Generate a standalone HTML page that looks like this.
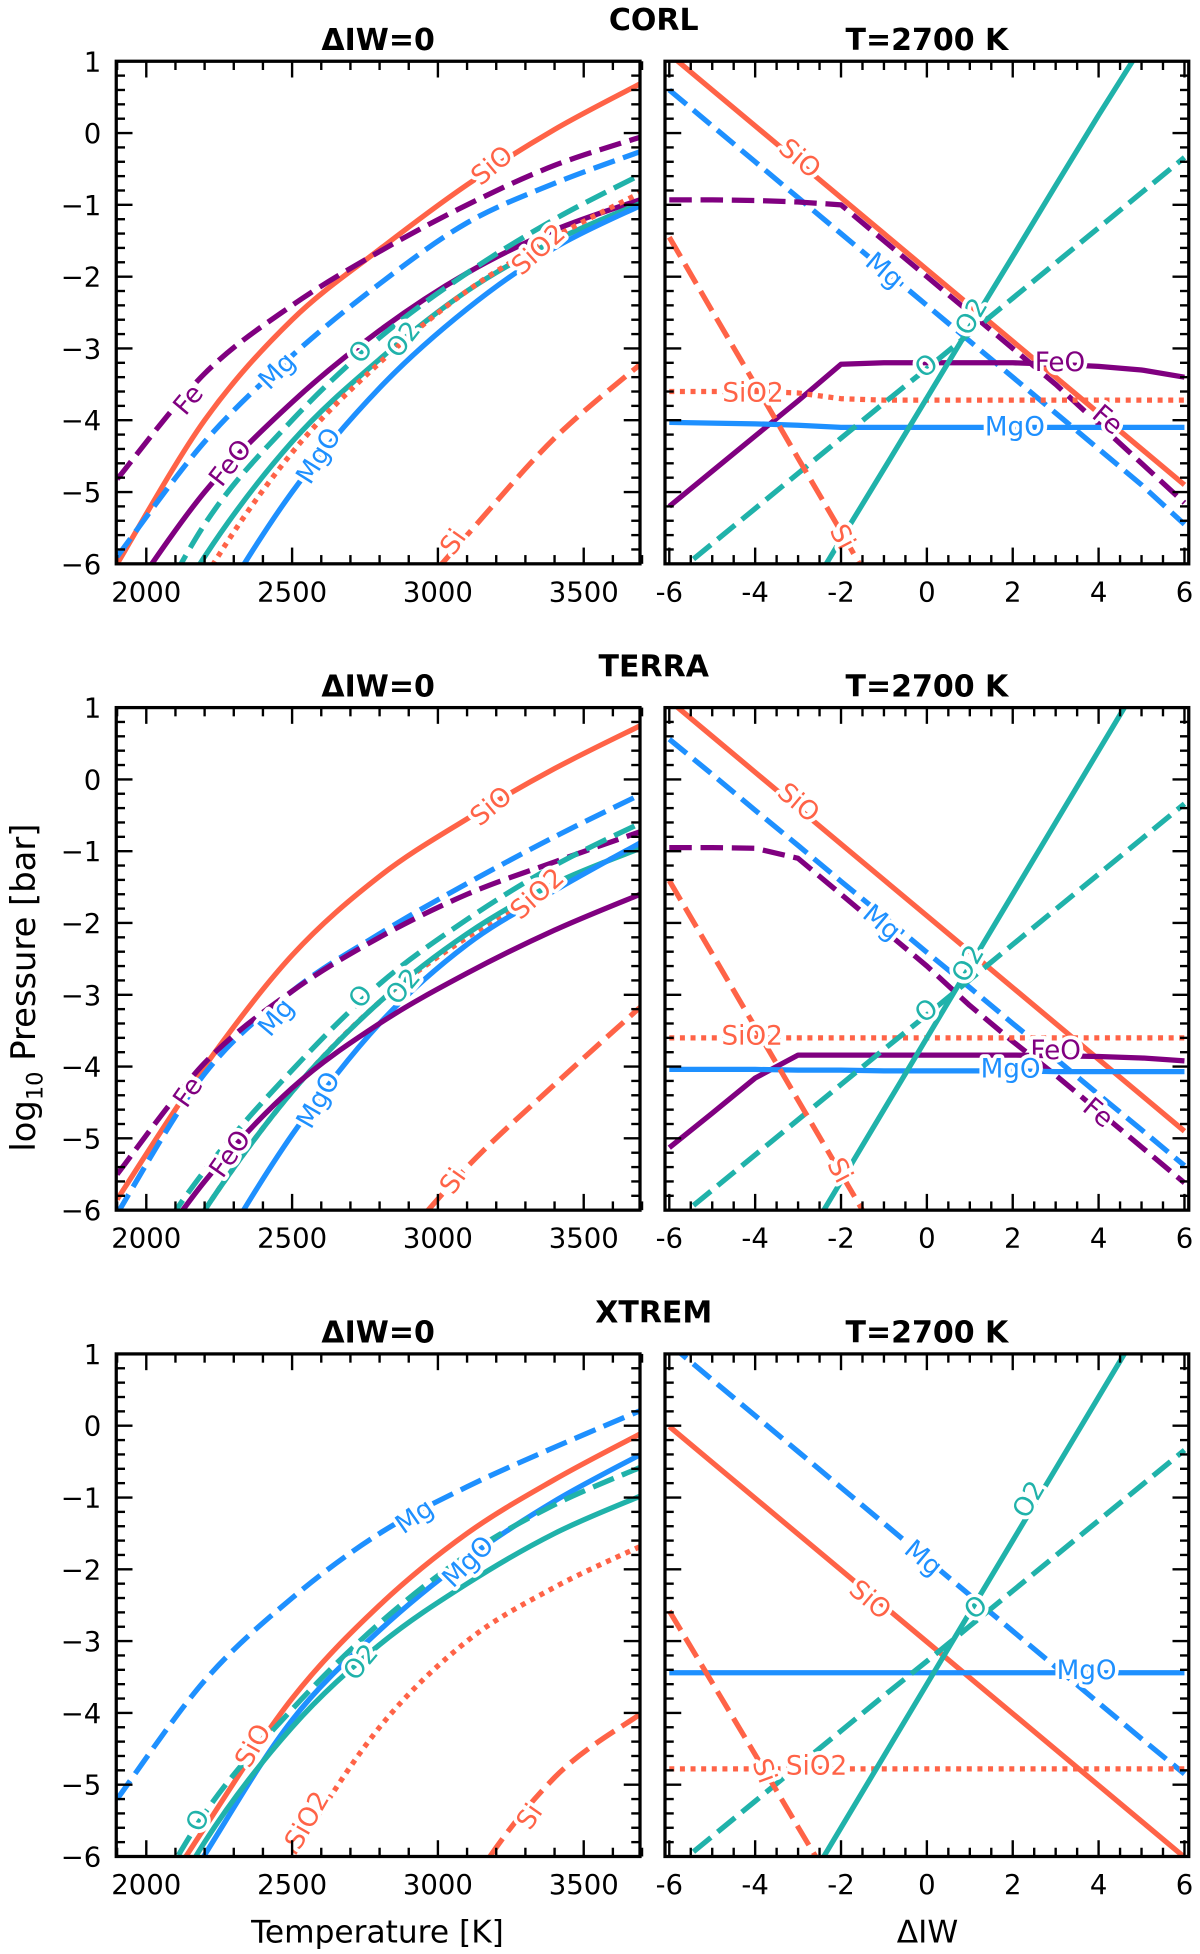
<!DOCTYPE html>
<html><head><meta charset="utf-8"><style>html,body{margin:0;padding:0;background:#fff;overflow:hidden}svg{display:block}</style></head>
<body>
<svg id="fig" width="1200" height="1954" viewBox="0 0 960 1563" preserveAspectRatio="none" xmlns="http://www.w3.org/2000/svg" font-family="'DejaVu Sans','Liberation Sans',sans-serif"></svg>
<script>
// ---------- data ----------
const tempGrid = [1900,2200,2500,2800,3100,3400,3700];
const iwGrid = [-6,-5,-4,-3,-2,-1,0,1,2,3,4,5,6];
const rowNames = ["CORL","TERRA","XTREM"];
const yTicks = [1,0,-1,-2,-3,-4,-5,-6];
const tTicks = [2000,2500,3000,3500];
const iwTicks = [-6,-4,-2,0,2,4,6];

// Left panels (log10 P vs T at ΔIW=0)
const corlT = {
 SiO:[-6.0,-4.0,-2.6,-1.62,-0.72,0.05,0.7],
 Fe:[-4.82,-3.35,-2.4,-1.65,-1.0,-0.45,-0.05],
 Mg:[-5.9,-4.3,-3.1,-2.1,-1.25,-0.7,-0.25],
 FeO:[-6.7,-5.0,-3.75,-2.75,-1.95,-1.35,-0.92],
 O2:[-8.0,-5.9,-4.3,-3.15,-2.2,-1.5,-0.97],
 O:[-7.7,-5.45,-4.0,-2.85,-1.95,-1.2,-0.57],
 SiO2:[-8.5,-6.2,-4.45,-3.2,-2.2,-1.45,-0.82],
 MgO:[-9.0,-6.9,-5.0,-3.55,-2.45,-1.6,-1.0],
 Si:[-12,-10,-8.4,-7.0,-5.6,-4.25,-3.2]
};
const terraT = {
 SiO:[-5.85,-4.0,-2.45,-1.35,-0.55,0.15,0.76],
 Mg:[-6.05,-4.1,-2.95,-2.15,-1.45,-0.8,-0.2],
 Fe:[-5.5,-3.95,-2.95,-2.2,-1.6,-1.15,-0.72],
 O:[-7.2,-5.45,-4.05,-2.85,-1.95,-1.2,-0.6],
 SiO2:[-8.0,-6.0,-4.35,-3.1,-2.2,-1.5,-0.9],
 O2:[-8.0,-6.0,-4.35,-3.1,-2.15,-1.45,-0.95],
 MgO:[-9.0,-6.9,-4.95,-3.4,-2.3,-1.55,-0.87],
 FeO:[-7.3,-5.6,-4.3,-3.4,-2.7,-2.1,-1.59],
 Si:[-12,-10,-8.3,-6.8,-5.4,-4.25,-3.15]
};
const xtremT = {
 Mg:[-5.2,-3.55,-2.4,-1.5,-0.85,-0.3,0.22],
 SiO:[-7.5,-5.6,-3.8,-2.5,-1.5,-0.75,-0.1],
 MgO:[-8,-5.98,-4.1,-2.85,-1.85,-1.05,-0.39],
 O:[-7.5,-5.4,-3.95,-2.75,-1.8,-1.1,-0.57],
 O2:[-8.0,-5.8,-4.2,-3.05,-2.2,-1.5,-0.97],
 SiO2:[-10,-8,-6.0,-4.2,-3.0,-2.25,-1.67],
 Si:[-14,-12,-10.5,-9,-6.5,-4.9,-4.0]
};
// Right panels (log10 P vs ΔIW at 2700 K)
const corlIW = {
 SiO:[1.1,0.6,0.1,-0.4,-0.9,-1.4,-1.9,-2.4,-2.9,-3.4,-3.9,-4.4,-4.9],
 Mg:[0.6,0.1,-0.4,-0.9,-1.4,-1.9,-2.4,-2.9,-3.4,-3.9,-4.4,-4.9,-5.45],
 Fe:[-0.93,-0.93,-0.94,-0.96,-1.0,-1.5,-2.0,-2.5,-3.0,-3.5,-4.05,-4.6,-5.15],
 FeO:[-5.2,-4.71,-4.22,-3.73,-3.22,-3.2,-3.2,-3.2,-3.2,-3.22,-3.25,-3.3,-3.4],
 SiO2:[-3.6,-3.6,-3.6,-3.62,-3.7,-3.72,-3.72,-3.72,-3.72,-3.72,-3.72,-3.72,-3.72],
 MgO:[-4.03,-4.04,-4.05,-4.07,-4.1,-4.1,-4.1,-4.1,-4.1,-4.1,-4.1,-4.1,-4.1],
 O2:[-9.6,-8.6,-7.6,-6.65,-5.66,-4.68,-3.69,-2.7,-1.72,-0.73,0.25,1.2,2.2],
 O:[-6.21,-5.72,-5.23,-4.74,-4.25,-3.76,-3.28,-2.79,-2.3,-1.81,-1.32,-0.83,-0.34],
 Si:[-1.45,-2.48,-3.5,-4.53,-5.55,-6.6,-7.6,-8.6,-9.6,-10.6,-11.6,-12.6,-13.6]
};
const terraIW = {
 SiO:[1.1,0.6,0.1,-0.4,-0.9,-1.4,-1.9,-2.4,-2.9,-3.4,-3.9,-4.4,-4.9],
 Mg:[0.56,0.07,-0.43,-0.92,-1.42,-1.91,-2.41,-2.9,-3.4,-3.89,-4.39,-4.88,-5.38],
 Fe:[-0.95,-0.95,-0.96,-1.1,-1.6,-2.1,-2.6,-3.15,-3.65,-4.12,-4.62,-5.12,-5.62],
 FeO:[-5.13,-4.65,-4.16,-3.84,-3.84,-3.84,-3.84,-3.84,-3.84,-3.85,-3.86,-3.88,-3.92],
 SiO2:[-3.6,-3.6,-3.6,-3.6,-3.6,-3.6,-3.6,-3.6,-3.6,-3.6,-3.6,-3.6,-3.6],
 MgO:[-4.04,-4.04,-4.04,-4.05,-4.05,-4.06,-4.06,-4.06,-4.06,-4.07,-4.07,-4.07,-4.07],
 O2:[-9.6,-8.6,-7.6,-6.6,-5.6,-4.6,-3.6,-2.6,-1.6,-0.6,0.4,1.4,2.4],
 O:[-6.21,-5.72,-5.23,-4.74,-4.25,-3.76,-3.28,-2.79,-2.3,-1.81,-1.32,-0.83,-0.34],
 Si:[-1.41,-2.43,-3.45,-4.47,-5.49,-6.51,-7.53,-8.55,-9.57,-10.6,-11.6,-12.6,-13.6]
};
const xtremIW = {
 Mg:[1.14,0.64,0.14,-0.36,-0.86,-1.36,-1.86,-2.36,-2.86,-3.36,-3.86,-4.36,-4.85],
 SiO:[-0.01,-0.51,-1.01,-1.51,-2.01,-2.51,-3.01,-3.51,-4.01,-4.51,-5.01,-5.51,-6.01],
 MgO:[-3.44,-3.44,-3.44,-3.44,-3.44,-3.44,-3.44,-3.44,-3.44,-3.44,-3.44,-3.44,-3.44],
 SiO2:[-4.78,-4.78,-4.78,-4.78,-4.78,-4.78,-4.78,-4.78,-4.78,-4.78,-4.78,-4.78,-4.78],
 O2:[-9.6,-8.6,-7.6,-6.6,-5.6,-4.6,-3.6,-2.6,-1.6,-0.6,0.4,1.4,2.4],
 O:[-6.21,-5.72,-5.23,-4.74,-4.25,-3.76,-3.28,-2.79,-2.3,-1.81,-1.32,-0.83,-0.34],
 Si:[-2.58,-3.58,-4.58,-5.59,-6.59,-7.59,-8.6,-9.6,-10.6,-11.6,-12.6,-13.6,-14.6]
};
// Curve labels: [species, x(data), y(data), rotation]
const corlTLabels = [["SiO",3187,-0.46,-40],["Fe",2146,-3.72,-50],["Mg",2450,-3.32,-45],["FeO",2290,-4.6,-52],["O",2737,-3.05,-55],["O2",2883,-2.88,-52],["SiO2",3346,-1.63,-42],["MgO",2593,-4.5,-58],["Si",3054,-5.7,-55]];
const corlIWLabels = [["SiO",-2.97,-0.36,40],["Mg",-1.0,-1.92,40],["O2",1.05,-2.56,-60],["O",0.0,-3.25,-39],["FeO",3.1,-3.2,0],["SiO2",-4.05,-3.63,0],["MgO",2.05,-4.1,0],["Fe",4.2,-4.0,40],["Si",-1.98,-5.63,62]];
const terraTLabels = [["SiO",3184,-0.38,-40],["Mg",2447,-3.32,-50],["Fe",2145,-4.36,-55],["FeO",2289,-5.22,-55],["O",2737,-3.03,-52],["O2",2882,-2.89,-50],["SiO2",3342,-1.6,-42],["MgO",2592,-4.47,-60],["Si",3053,-5.6,-55]];
const terraIWLabels = [["SiO",-3.0,-0.33,40],["Mg",-1.06,-2.0,40],["O2",0.97,-2.57,-60],["O",0.0,-3.23,-39],["SiO2",-4.07,-3.58,0],["FeO",3.0,-3.78,0],["MgO",1.95,-4.04,0],["Fe",3.98,-4.65,40],["Si",-2.04,-5.45,62]];
const xtremTLabels = [["Mg",2921,-1.27,-35],["SiO",2368,-4.46,-60],["MgO",3105,-1.9,-45],["O2",2737,-3.3,-50],["O",2179,-5.5,-65],["SiO2",2553,-5.5,-60],["Si",3316,-5.45,-55]];
const xtremIWLabels = [["Mg",-0.09,-1.85,40],["SiO",-1.33,-2.43,40],["O2",2.39,-1.03,-60],["O",1.15,-2.54,-39],["MgO",3.72,-3.42,0],["SiO2",-2.57,-4.75,0],["Si",-3.8,-4.81,70]];

// ---------- styles ----------
const DASH="18 7", DOT="4 4.5";
const styles = {
 SiO:{c:"#FF6347",d:null}, Fe:{c:"#800080",d:DASH}, Mg:{c:"#1E90FF",d:DASH},
 FeO:{c:"#800080",d:null}, O2:{c:"#20B2AA",d:null}, O:{c:"#20B2AA",d:DASH},
 SiO2:{c:"#FF6347",d:DOT}, MgO:{c:"#1E90FF",d:null}, Si:{c:"#FF6347",d:DASH}
};
const svg = document.getElementById('fig');
const NS = "http://www.w3.org/2000/svg";
function mk(tag, attrs, parent){const e=document.createElementNS(NS,tag);for(const k in attrs)e.setAttribute(k,attrs[k]);(parent||svg).appendChild(e);return e;}

const PW=419, PH=402, LX=93, RX=532, rowTop=[49,566,1083];
const TMIN=1897, TMAX=3693, DMIN=-6.1, DMAX=6.1, YMIN=-6, YMAX=1;

function smoothPath(pts){
 let d=`M${pts[0][0]},${pts[0][1]}`;
 for(let i=0;i<pts.length-1;i++){
  const p0=pts[Math.max(0,i-1)],p1=pts[i],p2=pts[i+1],p3=pts[Math.min(pts.length-1,i+2)];
  const c1=[p1[0]+(p2[0]-p0[0])/6,p1[1]+(p2[1]-p0[1])/6];
  const c2=[p2[0]-(p3[0]-p1[0])/6,p2[1]-(p3[1]-p1[1])/6];
  d+=` C${c1[0]},${c1[1]} ${c2[0]},${c2[1]} ${p2[0]},${p2[1]}`;
 }
 return d;
}

function panel(ri, side, series, labels){
 const x0 = side==="T"?LX:RX, y0=rowTop[ri];
 const xs = side==="T" ? (v=>x0+(v-TMIN)/(TMAX-TMIN)*PW) : (v=>x0+(v-DMIN)/(DMAX-DMIN)*PW);
 const ys = v=>y0+(YMAX-v)/(YMAX-YMIN)*PH;
 const grid = side==="T"?tempGrid:iwGrid;
 const g = mk('g',{});
 
 
 const cid='clip'+ri+side;
 const cp=mk('clipPath',{id:cid},g); mk('rect',{x:x0,y:y0,width:PW,height:PH},cp);
 const lg=mk('g',{'clip-path':`url(#${cid})`},g);
 for(const sp in series){
  const pts=series[sp].map((v,i)=>[xs(grid[i]),ys(v)]);
  const st=styles[sp];
  const p=mk('path',{d: side==="T"?smoothPath(pts):"M"+pts.map(p=>p.join(",")).join(" L"),fill:"none",stroke:st.c,'stroke-width':4.2,'stroke-linecap':'butt','stroke-linejoin':'round'},lg);
  if(st.d)p.setAttribute('stroke-dasharray',st.d);
  
  
 }
 for(const L of labels){
  const [sp,lx,ly,rot]=L; const px=xs(lx), py=ys(ly);
  const t=mk('text',{x:px,y:py,'font-size':21,fill:styles[sp].c,'text-anchor':'middle','dominant-baseline':'central',transform:`rotate(${rot} ${px} ${py})`,stroke:'#fff','stroke-width':6,'paint-order':'stroke','stroke-linejoin':'round'},lg);
  t.textContent=sp;
  
  
 }
 // ticks
 const tk=mk('g',{stroke:'#000','stroke-width':1.9},g);
 for(let v=YMIN; v<=YMAX+1e-9; v+=0.2){
  const major=Math.abs(v-Math.round(v))<1e-6, L=major?13:7, y=ys(v);
  mk('line',{x1:x0,y1:y,x2:x0+L,y2:y},tk); mk('line',{x1:x0+PW,y1:y,x2:x0+PW-L,y2:y},tk);
 }
 if(side==="T"){
  for(let v=1900; v<=3700; v+=100){const major=v%500===0,L=major?13:7,x=xs(v);
   mk('line',{x1:x,y1:y0,x2:x,y2:y0+L},tk); mk('line',{x1:x,y1:y0+PH,x2:x,y2:y0+PH-L},tk);}
 } else {
  for(let v=-6; v<=6; v+=0.5){const major=Math.abs(v%2)<1e-6,L=major?13:7,x=xs(v);
   mk('line',{x1:x,y1:y0,x2:x,y2:y0+L},tk); mk('line',{x1:x,y1:y0+PH,x2:x,y2:y0+PH-L},tk);}
 }
 mk('rect',{x:x0,y:y0,width:PW,height:PH,fill:'none',stroke:'#000','stroke-width':2.6},g);
 // tick labels
 const ticks = side==="T"?tTicks:iwTicks;
 for(const v of ticks){
  const t=mk('text',{x:xs(v),y:y0+PH+30,'font-size':22,'text-anchor':'middle'},g);
  t.textContent = String(v);
  
  
 }
 if(side==="T"){
  for(const v of yTicks){
   const t=mk('text',{x:x0-12,y:ys(v)+8,'font-size':22,'text-anchor':'end'},g);
   t.textContent = v<0?"\u2212"+(-v):String(v);
   
   
  }
 }
 const tt=mk('text',{x:x0+PW/2,y:y0-9,'font-size':24,'font-weight':'bold','text-anchor':'middle'},g);
 tt.textContent = side==="T"?"ΔIW=0":"T=2700 K";
 
 
}

const allT=[corlT,terraT,xtremT], allIW=[corlIW,terraIW,xtremIW];
const allTL=[corlTLabels,terraTLabels,xtremTLabels], allIWL=[corlIWLabels,terraIWLabels,xtremIWLabels];
for(let r=0;r<3;r++){
 panel(r,"T",allT[r],allTL[r]);
 panel(r,"IW",allIW[r],allIWL[r]);
 const h=mk('text',{x:523,y:rowTop[r]-25,'font-size':24,'font-weight':'bold','text-anchor':'middle'});
 h.textContent=rowNames[r];
 
 
}
const yl=mk('text',{x:0,y:0,'font-size':27,'text-anchor':'middle',transform:'translate(28,790) rotate(-90)'});
yl.innerHTML='log<tspan font-size="18" dy="6">10</tspan><tspan dy="-6"> Pressure [bar]</tspan>';


const xl1=mk('text',{x:302,y:1554,'font-size':25,'text-anchor':'middle'}); xl1.textContent='Temperature [K]';


const xl2=mk('text',{x:742,y:1554,'font-size':25,'text-anchor':'middle'}); xl2.textContent='ΔIW';


</script>
</body></html>
